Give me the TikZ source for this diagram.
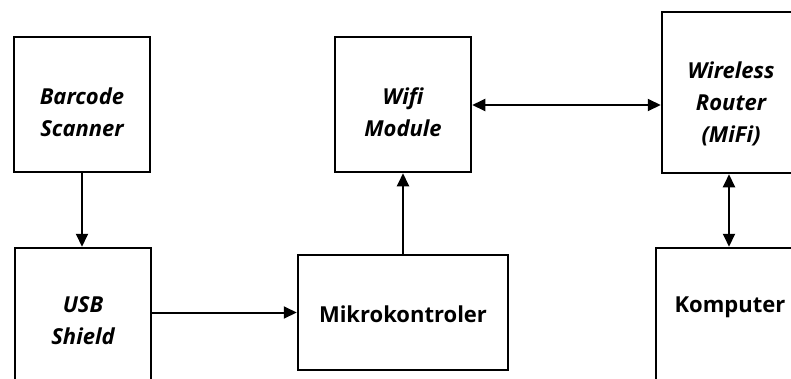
\documentclass[tikz,border=0pt]{standalone}
\usepackage{fontspec}
\setmainfont{Open Sans}
\usetikzlibrary{arrows.meta,calc}
\begin{document}
\begin{tikzpicture}[x=1pt,y=-1pt,
  blk/.style={draw=black,line width=2.5pt,minimum width=136pt,minimum height=135pt,inner sep=0pt,align=center},
  lbl/.style={font=\fontsize{22}{32}\selectfont\bfseries\itshape,align=center,inner sep=0pt},
  lblu/.style={font=\fontsize{22}{32}\selectfont\bfseries,align=center,inner sep=0pt},
  conn/.style={line width=2pt,-{Triangle[length=13pt,width=12pt]}},
  conn2/.style={line width=2pt,{Triangle[length=13pt,width=12pt]}-{Triangle[length=13pt,width=12pt]}}]
\useasboundingbox (0,0) rectangle (791,378);
\clip (0,0) rectangle (791,378);
\node[blk] (barcode) at (82,104.5) {};
\node[lbl] (barcodet) at (82,112) {Barcode\\Scanner};
\node[blk,minimum height=146pt] (usb) at (83,321) {};
\node[lbl] (usbt) at (83,321) {USB\\Shield};
\node[blk,minimum width=210pt,minimum height=115pt] (mikro) at (403,312.5) {};
\node[lblu] (mikrot) at (403,314) {Mikrokontroler};
\node[blk] (wifi) at (403,104.5) {};
\node[lbl] (wifit) at (403,112) {Wifi\\Module};
\node[blk,minimum width=138pt,minimum height=161pt] (router) at (731,92.5) {};
\node[lbl] (routert) at (731,104) {Wireless\\Router\\(MiFi)};
\node[blk,minimum width=148pt,minimum height=150pt] (komp) at (730,323) {};
\node[lblu] (kompt) at (730,307) {Komputer};
\draw[conn] (barcode.south) -- (barcode.south |- usb.north);
\draw[conn] (usb.east |- mikro.west) -- (mikro.west);
\draw[conn] (mikro.north) -- (wifi.south);
\draw[conn2] (wifi.east |- 0,105) -- (router.west |- 0,105);
\draw[conn2] (router.south -| 729,0) -- (komp.north -| 729,0);
\end{tikzpicture}
\end{document}
